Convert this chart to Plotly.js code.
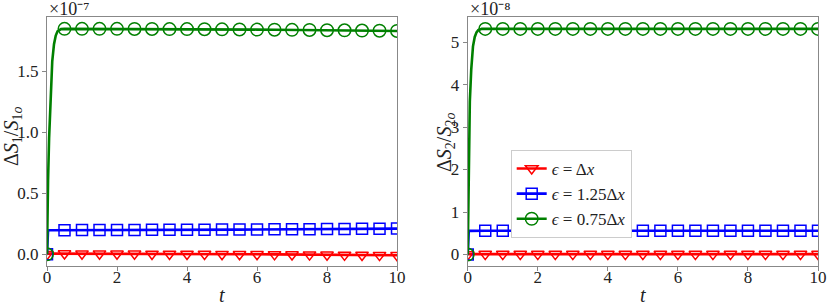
<!DOCTYPE html>
<html>
<head>
<meta charset="utf-8">
<script src="https://cdn.plot.ly/plotly-3.0.1.min.js"></script>
<style>html,body{margin:0;padding:0;background:#fff;}#chart{width:830px;height:308px;}</style>
</head>
<body>
<div id="chart"></div>
<script>
// time samples (dense near start)
const t = [0, 0.01, 0.03, 0.06, 0.1, 0.15, 0.2, 0.25, 0.3, 0.35, 0.4, 0.5,
  1, 1.5, 2, 2.5, 3, 3.5, 4, 4.5, 5, 5.5, 6, 6.5, 7, 7.5, 8, 8.5, 9, 9.5, 10];

// Left panel: ΔS1/S1o in units of 1e-7
const s1_eps1 = [0, 0.004, 0.005, 0.005, 0.005, 0.006, 0.006, 0.006, 0.006, 0.006, 0.006, 0.006,
  0.005, 0.005, 0.004, 0.004, 0.003, 0.003, 0.002, 0.002, 0.001, 0.000, 0.000, -0.001, -0.002, -0.003, -0.004, -0.005, -0.006, -0.007, -0.008];
const s1_eps125 = [0, 0.193, 0.195, 0.196, 0.196, 0.196, 0.197, 0.197, 0.197, 0.197, 0.197, 0.197,
  0.198, 0.198, 0.199, 0.199, 0.200, 0.200, 0.201, 0.201, 0.202, 0.202, 0.203, 0.204, 0.204, 0.205, 0.206, 0.207, 0.208, 0.209, 0.210];
const s1_eps075 = [0, 0.30, 0.60, 0.95, 1.30, 1.58, 1.72, 1.79, 1.825, 1.838, 1.843, 1.845,
  1.845, 1.845, 1.845, 1.844, 1.844, 1.843, 1.843, 1.842, 1.841, 1.840, 1.839, 1.838, 1.837, 1.836, 1.834, 1.833, 1.831, 1.830, 1.828];

// Right panel: ΔS2/S2o in units of 1e-8
const s2_eps1 = [0, 0.01, 0.01, 0.01, 0.01, 0.01, 0.01, 0.01, 0.01, 0.01, 0.01, 0.01,
  0.01, 0.01, 0.01, 0.01, 0.01, 0.01, 0.01, 0.01, 0.01, 0.01, 0.01, 0.01, 0.01, 0.01, 0.01, 0.01, 0.01, 0.01, 0.01];
const s2_eps125 = [0, 0.55, 0.555, 0.557, 0.558, 0.558, 0.558, 0.558, 0.558, 0.558, 0.558, 0.558,
  0.558, 0.558, 0.558, 0.558, 0.558, 0.558, 0.558, 0.558, 0.558, 0.558, 0.558, 0.558, 0.558, 0.558, 0.558, 0.558, 0.558, 0.558, 0.558];
const s2_eps075 = [0, 0.9, 2.3, 3.6, 4.35, 4.9, 5.12, 5.23, 5.28, 5.30, 5.31, 5.31,
  5.31, 5.31, 5.31, 5.31, 5.31, 5.31, 5.31, 5.31, 5.31, 5.31, 5.31, 5.31, 5.31, 5.31, 5.31, 5.31, 5.31, 5.31, 5.31];

const labels = ['<i>ϵ</i> = Δ<i>x</i>', '<i>ϵ</i> = 1.25Δ<i>x</i>', '<i>ϵ</i> = 0.75Δ<i>x</i>'];
const exponents = ['×10⁻⁷', '×10⁻⁸'];
const colors = ['#ff0000', '#0000ff', '#008000'];
const symbols = ['triangle-down-open', 'square-open', 'circle-open'];
const msizes = [11, 11, 12.5];
const xTicks = [0, 2, 4, 6, 8, 10];
const y1Ticks = [0, 0.5, 1.0, 1.5];
const y2Ticks = [0, 1, 2, 3, 4, 5];

const FONT = '"Liberation Serif", "Times New Roman", serif';
const left = [s1_eps1, s1_eps125, s1_eps075];
const right = [s2_eps1, s2_eps125, s2_eps075];

function isMark(v) { return Math.abs(v * 2 - Math.round(v * 2)) < 1e-9; }
const markIdx = t.map((v, i) => isMark(v) ? i : -1).filter(i => i >= 0);

const traces = [];
[[left, 'x', 'y'], [right, 'x2', 'y2']].forEach(([sets, xa, ya]) => {
  sets.forEach((ys, k) => {
    traces.push({x: t, y: ys, xaxis: xa, yaxis: ya, mode: 'lines', showlegend: false,
      line: {color: colors[k], width: 2.6}, hoverinfo: 'skip'});
    traces.push({x: markIdx.map(i => t[i]), y: markIdx.map(i => ys[i]), xaxis: xa, yaxis: ya,
      mode: 'markers', showlegend: false,
      marker: {symbol: symbols[k], size: msizes[k], color: colors[k], line: {width: 1.5, color: colors[k]}}});
  });
});
// legend entries
labels.forEach((lab, k) => {
  traces.push({x: [null], y: [null], xaxis: 'x2', yaxis: 'y2', mode: 'lines+markers', name: lab,
    line: {color: colors[k], width: 2.6},
    marker: {symbol: symbols[k], size: msizes[k], color: colors[k], line: {width: 1.5, color: colors[k]}}});
});

const axCommon = {showline: true, mirror: true, linecolor: '#888', linewidth: 1, ticks: 'outside',
  ticklen: 4, tickcolor: '#888', showgrid: false, zeroline: false,
  tickfont: {family: FONT, size: 17, color: '#222'}};

const W = 771, H = 249, ML = 47, MT = 17;
const px = v => (v - ML) / W;          // pixel x -> paper x
const py = v => 1 - (v - MT) / H;      // pixel y -> paper y
const tf = {family: FONT, size: 20, color: '#222'};
const ef = {family: FONT, size: 18, color: '#222'};

const layout = {
  width: 830, height: 308,
  margin: {l: ML, r: 12, t: MT, b: 42},
  paper_bgcolor: '#fff', plot_bgcolor: '#fff',
  font: {family: FONT, color: '#222', size: 16},
  xaxis: Object.assign({}, axCommon, {domain: [0, 0.454], range: [0, 10], tickvals: xTicks, ticktext: xTicks.map(String), ticklabelstandoff: -8}),
  yaxis: Object.assign({}, axCommon, {range: [-0.096, 1.942], tickvals: y1Ticks, ticktext: y1Ticks.map(v => v.toFixed(1))}),
  xaxis2: Object.assign({}, axCommon, {domain: [0.5457, 1], range: [0, 10], anchor: 'y2', tickvals: xTicks, ticktext: xTicks.map(String), ticklabelstandoff: -8}),
  yaxis2: Object.assign({}, axCommon, {anchor: 'x2', range: [-0.27, 5.59], tickvals: y2Ticks, ticktext: y2Ticks.map(String)}),
  legend: {x: px(510.7), y: py(150), xanchor: 'left', yanchor: 'top',
    bgcolor: '#fff', bordercolor: '#ccc', borderwidth: 1,
    font: {family: FONT, size: 17, color: '#222'}, tracegroupgap: 0},
  annotations: [
    {xref: 'paper', yref: 'paper', x: px(47), y: py(9), xanchor: 'left', yanchor: 'middle', showarrow: false,
      text: exponents[0], font: ef},
    {xref: 'paper', yref: 'paper', x: px(468), y: py(9), xanchor: 'left', yanchor: 'middle', showarrow: false,
      text: exponents[1], font: ef},
    {xref: 'paper', yref: 'paper', x: px(222), y: py(295), xanchor: 'center', yanchor: 'middle', showarrow: false,
      text: '<i>t</i>', font: tf},
    {xref: 'paper', yref: 'paper', x: px(643), y: py(295), xanchor: 'center', yanchor: 'middle', showarrow: false,
      text: '<i>t</i>', font: tf},
    {xref: 'paper', yref: 'paper', x: px(12), y: py(137), xanchor: 'center', yanchor: 'middle', showarrow: false,
      textangle: -90, text: 'Δ<i>S</i><sub>1</sub>/<i>S</i><sub>1<i>o</i></sub>', font: tf},
    {xref: 'paper', yref: 'paper', x: px(445), y: py(143), xanchor: 'center', yanchor: 'middle', showarrow: false,
      textangle: -90, text: 'Δ<i>S</i><sub>2</sub>/<i>S</i><sub>2<i>o</i></sub>', font: tf}
  ],
  showlegend: true
};

Plotly.newPlot('chart', traces, layout, {displayModeBar: false, staticPlot: true});
</script>
</body>
</html>
